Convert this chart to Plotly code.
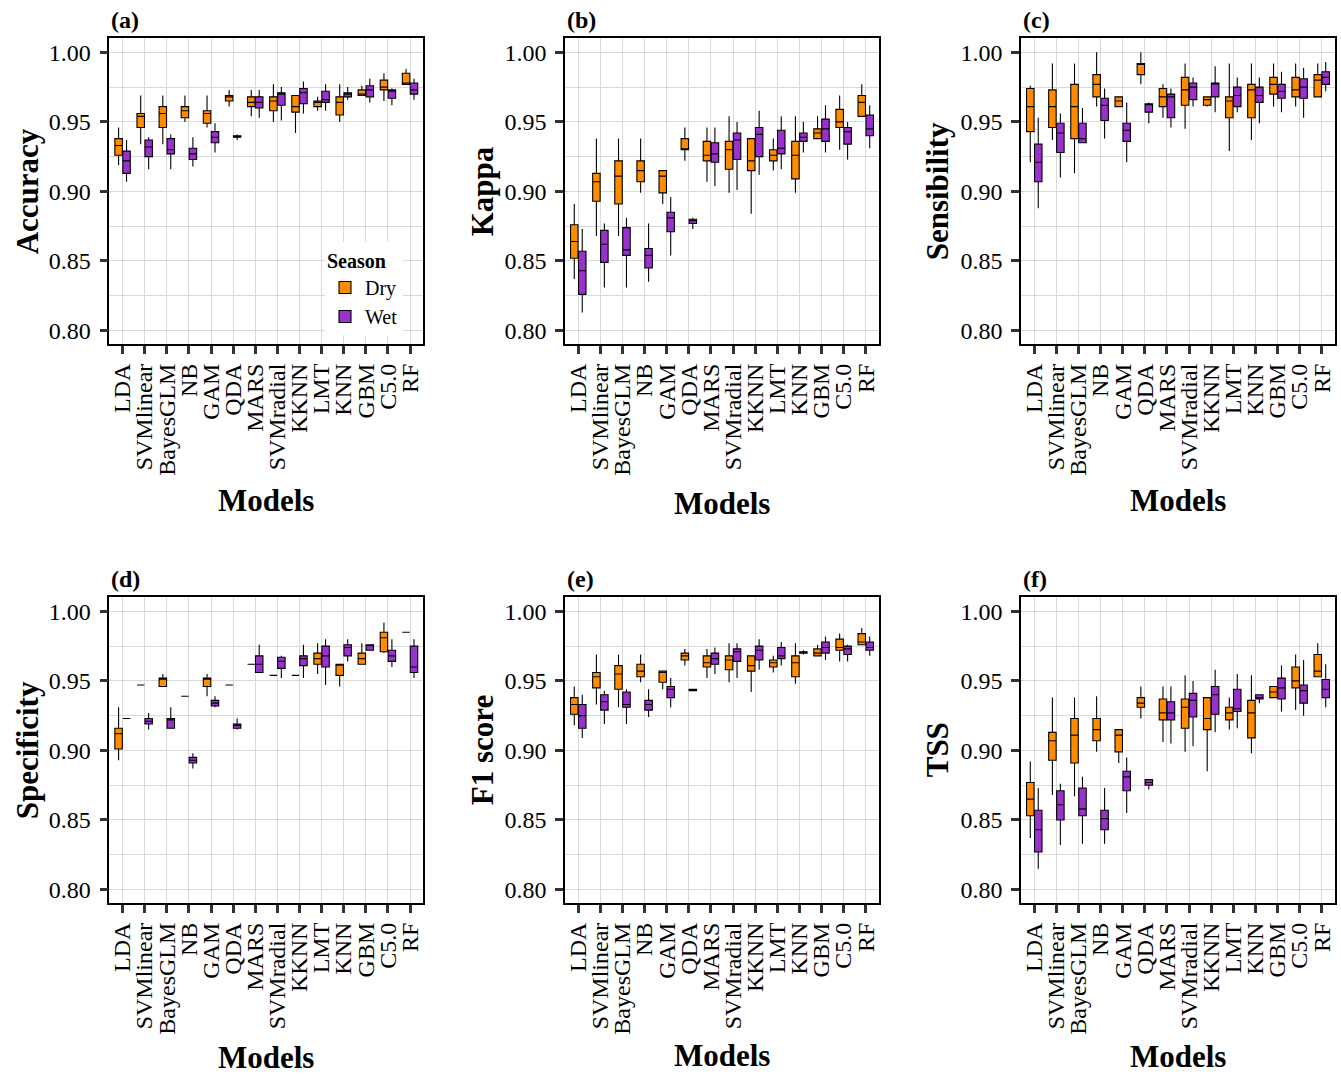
import plotly.graph_objects as go

W, H = 1341, 1076

models = ["LDA", "SVMlinear", "BayesGLM", "NB", "GAM", "QDA", "MARS",
          "SVMradial", "KKNN", "LMT", "KNN", "GBM", "C5.0", "RF"]

seasons = ["Dry", "Wet"]
season_colors = {"Dry": "#FF8C00", "Wet": "#9932CC"}

# each entry: (lower whisker, q1, median, q3, upper whisker)
accuracy_dry = [(0.919, 0.926, 0.933, 0.938, 0.946), (0.934, 0.946, 0.954, 0.956, 0.969),
                (0.934, 0.946, 0.956, 0.961, 0.969), (0.950, 0.953, 0.958, 0.961, 0.969),
                (0.946, 0.949, 0.956, 0.958, 0.969), (0.961, 0.965, 0.968, 0.969, 0.973),
                (0.954, 0.961, 0.964, 0.968, 0.973), (0.950, 0.958, 0.965, 0.968, 0.977),
                (0.942, 0.957, 0.961, 0.969, 0.969), (0.958, 0.961, 0.964, 0.965, 0.968),
                (0.950, 0.955, 0.964, 0.968, 0.977), (0.969, 0.969, 0.970, 0.973, 0.976),
                (0.965, 0.973, 0.975, 0.980, 0.985), (0.977, 0.977, 0.978, 0.985, 0.988)]
accuracy_wet = [(0.907, 0.913, 0.922, 0.929, 0.937), (0.916, 0.925, 0.932, 0.937, 0.939),
                (0.916, 0.927, 0.930, 0.938, 0.941), (0.918, 0.923, 0.927, 0.931, 0.939),
                (0.928, 0.935, 0.939, 0.943, 0.949), (0.937, 0.939, 0.940, 0.940, 0.941),
                (0.953, 0.960, 0.964, 0.968, 0.973), (0.951, 0.962, 0.970, 0.971, 0.975),
                (0.956, 0.963, 0.971, 0.974, 0.979), (0.958, 0.964, 0.966, 0.972, 0.977),
                (0.966, 0.968, 0.970, 0.971, 0.975), (0.964, 0.968, 0.973, 0.976, 0.981),
                (0.962, 0.967, 0.972, 0.973, 0.974), (0.966, 0.970, 0.973, 0.978, 0.981)]

kappa_dry = [(0.837, 0.852, 0.864, 0.876, 0.891), (0.868, 0.893, 0.907, 0.913, 0.938),
             (0.868, 0.891, 0.911, 0.922, 0.938), (0.899, 0.907, 0.915, 0.922, 0.938),
             (0.891, 0.899, 0.911, 0.915, 0.915), (0.922, 0.930, 0.930, 0.938, 0.946),
             (0.907, 0.922, 0.926, 0.936, 0.946), (0.899, 0.916, 0.930, 0.936, 0.954),
             (0.884, 0.915, 0.922, 0.938, 0.938), (0.915, 0.922, 0.926, 0.930, 0.938),
             (0.899, 0.909, 0.926, 0.936, 0.954), (0.938, 0.938, 0.942, 0.945, 0.954),
             (0.930, 0.946, 0.950, 0.959, 0.969), (0.954, 0.954, 0.964, 0.969, 0.977)]
kappa_wet = [(0.813, 0.826, 0.843, 0.857, 0.873), (0.831, 0.849, 0.862, 0.872, 0.877),
             (0.831, 0.854, 0.858, 0.874, 0.881), (0.835, 0.845, 0.854, 0.859, 0.877),
             (0.854, 0.871, 0.881, 0.885, 0.896), (0.873, 0.877, 0.879, 0.880, 0.881),
             (0.904, 0.921, 0.927, 0.935, 0.946), (0.901, 0.923, 0.937, 0.942, 0.950),
             (0.912, 0.925, 0.941, 0.946, 0.958), (0.916, 0.927, 0.931, 0.944, 0.954),
             (0.928, 0.936, 0.939, 0.942, 0.950), (0.928, 0.936, 0.945, 0.952, 0.962),
             (0.923, 0.934, 0.943, 0.946, 0.950), (0.931, 0.940, 0.945, 0.955, 0.962)]

sensibility_dry = [(0.921, 0.943, 0.961, 0.974, 0.976), (0.937, 0.946, 0.961, 0.973, 0.992),
                   (0.913, 0.938, 0.961, 0.977, 0.992), (0.961, 0.968, 0.977, 0.984, 1.000),
                   (0.961, 0.961, 0.965, 0.968, 0.968), (0.977, 0.984, 0.992, 0.992, 1.000),
                   (0.953, 0.961, 0.968, 0.974, 0.977), (0.945, 0.962, 0.973, 0.982, 0.992),
                   (0.961, 0.962, 0.966, 0.968, 0.968), (0.929, 0.953, 0.965, 0.968, 0.992),
                   (0.937, 0.953, 0.973, 0.977, 0.992), (0.961, 0.970, 0.977, 0.982, 0.992),
                   (0.961, 0.968, 0.973, 0.982, 0.992), (0.968, 0.968, 0.980, 0.984, 0.992)]
sensibility_wet = [(0.888, 0.907, 0.921, 0.934, 0.953), (0.910, 0.928, 0.942, 0.949, 0.956),
                   (0.935, 0.935, 0.938, 0.949, 0.960), (0.938, 0.951, 0.962, 0.967, 0.974),
                   (0.921, 0.936, 0.944, 0.949, 0.964), (0.949, 0.957, 0.963, 0.963, 0.964),
                   (0.946, 0.953, 0.968, 0.970, 0.974), (0.961, 0.966, 0.975, 0.978, 0.982),
                   (0.957, 0.968, 0.978, 0.978, 0.990), (0.957, 0.961, 0.969, 0.975, 0.982),
                   (0.949, 0.964, 0.969, 0.975, 0.982), (0.957, 0.967, 0.972, 0.977, 0.986),
                   (0.953, 0.967, 0.975, 0.981, 0.989), (0.972, 0.977, 0.982, 0.986, 0.993)]

specificity_dry = [(0.893, 0.901, 0.912, 0.916, 0.931), (0.947, 0.947, 0.947, 0.947, 0.947),
                   (0.946, 0.946, 0.952, 0.952, 0.955), (0.939, 0.939, 0.939, 0.939, 0.939),
                   (0.939, 0.946, 0.952, 0.952, 0.955), (0.947, 0.947, 0.947, 0.947, 0.947),
                   (0.962, 0.962, 0.962, 0.962, 0.962), (0.954, 0.954, 0.954, 0.954, 0.954),
                   (0.954, 0.954, 0.954, 0.954, 0.954), (0.955, 0.962, 0.966, 0.970, 0.977),
                   (0.946, 0.954, 0.962, 0.962, 0.962), (0.962, 0.962, 0.966, 0.970, 0.977),
                   (0.970, 0.971, 0.981, 0.985, 0.992), (0.985, 0.985, 0.985, 0.985, 0.985)]
specificity_wet = [(0.923, 0.923, 0.923, 0.923, 0.923), (0.915, 0.919, 0.921, 0.923, 0.927),
                   (0.916, 0.916, 0.922, 0.923, 0.931), (0.887, 0.891, 0.893, 0.895, 0.898),
                   (0.931, 0.932, 0.934, 0.936, 0.939), (0.915, 0.916, 0.918, 0.919, 0.923),
                   (0.956, 0.956, 0.962, 0.968, 0.976), (0.952, 0.959, 0.964, 0.967, 0.968),
                   (0.952, 0.961, 0.966, 0.968, 0.976), (0.947, 0.960, 0.968, 0.975, 0.980),
                   (0.964, 0.968, 0.974, 0.976, 0.980), (0.972, 0.972, 0.976, 0.976, 0.976),
                   (0.960, 0.964, 0.968, 0.972, 0.980), (0.952, 0.956, 0.960, 0.975, 0.980)]

f1_dry = [(0.918, 0.926, 0.933, 0.938, 0.946), (0.933, 0.945, 0.953, 0.956, 0.969),
          (0.931, 0.944, 0.955, 0.961, 0.969), (0.949, 0.953, 0.957, 0.962, 0.969),
          (0.944, 0.949, 0.956, 0.957, 0.957), (0.961, 0.965, 0.968, 0.970, 0.973),
          (0.952, 0.960, 0.963, 0.968, 0.973), (0.949, 0.958, 0.965, 0.968, 0.977),
          (0.942, 0.957, 0.961, 0.968, 0.968), (0.956, 0.960, 0.963, 0.965, 0.968),
          (0.948, 0.953, 0.963, 0.968, 0.977), (0.968, 0.968, 0.970, 0.973, 0.976),
          (0.964, 0.972, 0.974, 0.980, 0.984), (0.976, 0.976, 0.978, 0.984, 0.988)]
f1_wet = [(0.909, 0.916, 0.925, 0.933, 0.940), (0.919, 0.929, 0.935, 0.940, 0.943),
          (0.919, 0.931, 0.933, 0.942, 0.944), (0.924, 0.929, 0.933, 0.936, 0.944),
          (0.931, 0.938, 0.944, 0.946, 0.952), (0.943, 0.943, 0.944, 0.944, 0.944),
          (0.955, 0.962, 0.966, 0.970, 0.974), (0.952, 0.964, 0.971, 0.973, 0.977),
          (0.958, 0.965, 0.972, 0.975, 0.980), (0.961, 0.966, 0.968, 0.974, 0.978),
          (0.969, 0.970, 0.971, 0.971, 0.972), (0.965, 0.970, 0.974, 0.978, 0.982),
          (0.964, 0.969, 0.973, 0.975, 0.976), (0.968, 0.972, 0.974, 0.978, 0.982)]

tss_dry = [(0.837, 0.853, 0.865, 0.877, 0.892), (0.868, 0.893, 0.907, 0.913, 0.938),
           (0.867, 0.891, 0.911, 0.923, 0.938), (0.899, 0.907, 0.915, 0.923, 0.939),
           (0.891, 0.899, 0.911, 0.915, 0.915), (0.923, 0.931, 0.934, 0.938, 0.946),
           (0.906, 0.922, 0.927, 0.937, 0.946), (0.899, 0.916, 0.931, 0.937, 0.954),
           (0.885, 0.915, 0.923, 0.938, 0.938), (0.915, 0.922, 0.927, 0.931, 0.938),
           (0.898, 0.909, 0.927, 0.936, 0.954), (0.938, 0.938, 0.942, 0.946, 0.946),
           (0.929, 0.945, 0.950, 0.960, 0.969), (0.953, 0.953, 0.957, 0.969, 0.977)]
tss_wet = [(0.815, 0.827, 0.843, 0.857, 0.873), (0.832, 0.850, 0.861, 0.871, 0.876),
           (0.833, 0.853, 0.858, 0.873, 0.881), (0.833, 0.843, 0.851, 0.857, 0.873),
           (0.855, 0.871, 0.881, 0.885, 0.895), (0.872, 0.875, 0.877, 0.879, 0.879),
           (0.905, 0.922, 0.927, 0.935, 0.946), (0.903, 0.924, 0.936, 0.941, 0.950),
           (0.913, 0.926, 0.940, 0.946, 0.958), (0.916, 0.928, 0.930, 0.944, 0.955),
           (0.934, 0.937, 0.938, 0.940, 0.940), (0.928, 0.937, 0.945, 0.952, 0.961),
           (0.925, 0.934, 0.943, 0.947, 0.965), (0.931, 0.938, 0.944, 0.951, 0.962)]

panel_labels = ["(a)", "(b)", "(c)", "(d)", "(e)", "(f)"]
metric_names = ["Accuracy", "Kappa", "Sensibility", "Specificity", "F1 score", "TSS"]
metric_data = [(accuracy_dry, accuracy_wet), (kappa_dry, kappa_wet),
               (sensibility_dry, sensibility_wet), (specificity_dry, specificity_wet),
               (f1_dry, f1_wet), (tss_dry, tss_wet)]

y_ticks = [0.80, 0.85, 0.90, 0.95, 1.00]
y_minor = [0.825, 0.875, 0.925, 0.975]

# ---- layout geometry (pixels) ----
col_x = [(109.3, 423.3), (565.0, 879.0), (1021.0, 1335.0)]
row_y = [(38.3, 344.3), (597.3, 903.3)]
ytitle_x = [27, 482, 937]
xtitle_y = [[500, 503, 500], [1057, 1055, 1056]]

FONT = "Liberation Serif"
fig = go.Figure()
layout_axes = {}
annotations = []

for i in range(6):
    r, c = divmod(i, 3)
    n = i + 1
    xa = "x" if n == 1 else f"x{n}"
    ya = "y" if n == 1 else f"y{n}"
    dry, wet = metric_data[i]
    for season, vals in zip(seasons, (dry, wet)):
        fig.add_trace(go.Box(
            x=models,
            lowerfence=[v[0] for v in vals],
            q1=[v[1] for v in vals],
            median=[v[2] for v in vals],
            q3=[v[3] for v in vals],
            upperfence=[v[4] for v in vals],
            name=season, legendgroup=season, showlegend=(i == 0),
            fillcolor=season_colors[season],
            line=dict(color="#000000", width=1.1),
            whiskerwidth=0, boxpoints=False,
            offsetgroup=season,
            xaxis=xa, yaxis=ya,
            hoverinfo="skip",
        ))
    x0, x1 = col_x[c]
    y0, y1 = row_y[r]
    xkey = "xaxis" if n == 1 else f"xaxis{n}"
    ykey = "yaxis" if n == 1 else f"yaxis{n}"
    layout_axes[xkey] = dict(
        domain=[x0 / W, x1 / W], anchor=ya,
        type="category", categoryorder="array", categoryarray=models,
        tickmode="array", tickvals=models, ticktext=models,
        range=[-0.6, 13.6], tickangle=-90,
        tickfont=dict(family=FONT, size=24, color="#000000"),
        ticks="outside", ticklen=8, tickwidth=2.5, tickcolor="#333333",
        showgrid=True, gridcolor="#d9d9d9", gridwidth=1,
        showline=True, mirror=True, linecolor="#000000", linewidth=1.6,
        zeroline=False, automargin=False, ticklabelstandoff=0,
    )
    layout_axes[ykey] = dict(
        domain=[1 - y1 / H, 1 - y0 / H], anchor=xa,
        range=[0.7901, 1.0101], tickvals=y_ticks, tickformat=".2f",
        tickfont=dict(family=FONT, size=24, color="#000000"),
        ticks="outside", ticklen=8, tickwidth=2.5, tickcolor="#333333",
        showgrid=True, gridcolor="#d9d9d9", gridwidth=1,
        minor=dict(tickvals=y_minor, showgrid=True, gridcolor="#d9d9d9",
                   gridwidth=1, ticks=""),
        showline=True, mirror=True, linecolor="#000000", linewidth=1.6,
        zeroline=False, automargin=False, ticklabelstandoff=4,
    )
    # panel label
    annotations.append(dict(
        text=f"<b>{panel_labels[i]}</b>", x=x0 / W, y=1 - (y0 - 18) / H,
        xref="paper", yref="paper", xanchor="left", yanchor="middle",
        showarrow=False, font=dict(family=FONT, size=24, color="#000000")))
    # y title
    annotations.append(dict(
        text=f"<b>{metric_names[i]}</b>", x=ytitle_x[c] / W,
        y=1 - ((y0 + y1) / 2) / H, xref="paper", yref="paper",
        xanchor="center", yanchor="middle", textangle=-90,
        showarrow=False, font=dict(family=FONT, size=31, color="#000000")))
    # x title
    annotations.append(dict(
        text="<b>Models</b>", x=((x0 + x1) / 2) / W, y=1 - xtitle_y[r][c] / H,
        xref="paper", yref="paper", xanchor="center", yanchor="middle",
        showarrow=False, font=dict(family=FONT, size=31, color="#000000")))

fig.update_layout(
    width=W, height=H,
    margin=dict(l=0, r=0, t=0, b=0),
    paper_bgcolor="#ffffff", plot_bgcolor="#ffffff",
    boxmode="group", boxgap=0.28, boxgroupgap=0.06,
    font=dict(family=FONT, color="#000000"),
    annotations=annotations,
    legend=dict(
        title=dict(text="<b>Season</b>", font=dict(family=FONT, size=20)),
        font=dict(family=FONT, size=20), x=325 / W, y=1 - 242 / H,
        xanchor="left", yanchor="top", bgcolor="#ffffff",
        tracegroupgap=0, itemwidth=30, traceorder="normal",
    ),
    **layout_axes,
)

fig.write_html(
    "out.html",
    config={"displayModeBar": False},
    post_script="document.body.style.margin='0px';document.body.style.overflow='hidden';",
)
